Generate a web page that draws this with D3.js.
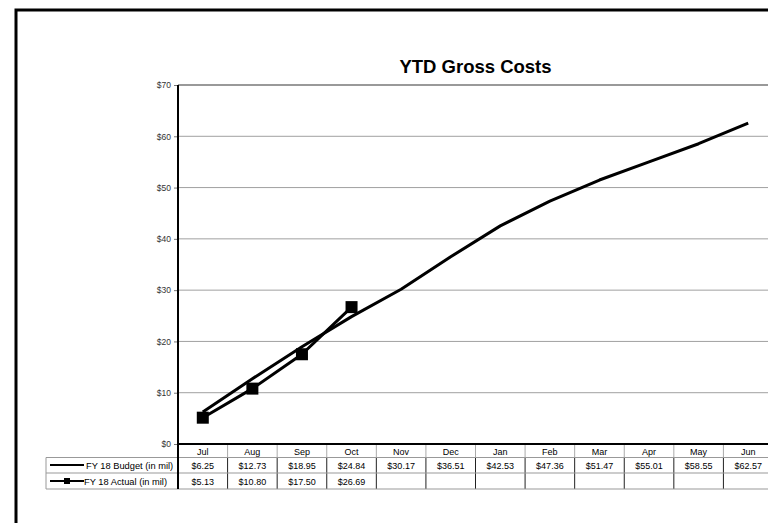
<!DOCTYPE html>
<html>
<head>
<meta charset="utf-8">
<script src="https://cdn.jsdelivr.net/npm/d3@7"></script>
<style>
  html, body { margin: 0; padding: 0; background: #fff; }
  svg { display: block; font-family: "Liberation Sans", Arial, sans-serif; }
</style>
</head>
<body>
<svg id="chart" width="768" height="523"></svg>
<script>
const months = ["Jul","Aug","Sep","Oct","Nov","Dec","Jan","Feb","Mar","Apr","May","Jun"];
const budget = [6.25,12.73,18.95,24.84,30.17,36.51,42.53,47.36,51.47,55.01,58.55,62.57];
const actual = [5.13,10.80,17.50,26.69];
const yTicks = [0,10,20,30,40,50,60,70];
const seriesNames = ["FY 18 Budget (in mil)", "FY 18 Actual (in mil)"];
const title = "YTD Gross Costs";

const svg = d3.select("#chart");
const L = 178, R = 773, T = 85, B = 444;
const x = d3.scaleBand().domain(months).range([L, R]).padding(0);
const y = d3.scaleLinear().domain([0, 70]).range([B, T]);
const cx = m => x(m) + x.bandwidth() / 2;
const fmt = v => "$" + v.toFixed(2);

// outer frame
svg.append("rect").attr("x", 16).attr("y", 10).attr("width", 900).attr("height", 700)
  .attr("fill", "none").attr("stroke", "#000").attr("stroke-width", 3);

// title
svg.append("text").attr("x", (L + R) / 2).attr("y", 73).attr("text-anchor", "middle")
  .attr("font-weight", "bold").attr("font-size", "18.5px").attr("fill", "#000").text(title);

// gridlines
svg.append("g").selectAll("line").data(yTicks.filter(d => d > 0)).join("line")
  .attr("x1", L).attr("x2", R + 20).attr("y1", d => y(d)).attr("y2", d => y(d))
  .attr("stroke", d => d === 70 ? "#777" : "#a0a0a0").attr("stroke-width", d => d === 70 ? 1.5 : 1);

// y axis
const yAxis = d3.axisLeft(y).tickValues(yTicks).tickFormat(d => "$" + d).tickSize(4).tickPadding(3);
const ya = svg.append("g").attr("transform", `translate(${L},0)`).call(yAxis);
ya.select(".domain").remove();
ya.selectAll(".tick line").attr("stroke", "#777");
ya.selectAll(".tick text").attr("font-size", "8.5px").attr("fill", "#333")
  .attr("font-family", "'Liberation Sans', Arial, sans-serif");

// table
const rowTop = [444, 457.5, 473, 489];
const tbl = svg.append("g");
tbl.selectAll("text.cat").data(months).join("text").attr("class", "cat")
  .attr("x", d => cx(d)).attr("y", 454.5).attr("text-anchor", "middle")
  .attr("font-size", "9px").attr("fill", "#000").text(d => d);
tbl.selectAll("line.vc").data(months.slice(1)).join("line").attr("class", "vc")
  .attr("x1", d => x(d)).attr("x2", d => x(d)).attr("y1", rowTop[0]).attr("y2", rowTop[1])
  .attr("stroke", "#aaa").attr("stroke-width", 1);
tbl.selectAll("line.vd").data(months.slice(1)).join("line").attr("class", "vd")
  .attr("x1", d => x(d)).attr("x2", d => x(d)).attr("y1", rowTop[1]).attr("y2", rowTop[3])
  .attr("stroke", "#222").attr("stroke-width", 1);
[rowTop[1], rowTop[2], rowTop[3]].forEach(yy => {
  tbl.append("line").attr("x1", 46).attr("x2", R + 20).attr("y1", yy).attr("y2", yy)
    .attr("stroke", "#999").attr("stroke-width", 1);
});
tbl.append("line").attr("x1", 46).attr("x2", 46).attr("y1", rowTop[1]).attr("y2", rowTop[3])
  .attr("stroke", "#999").attr("stroke-width", 1);
tbl.selectAll("text.bv").data(budget).join("text").attr("class", "bv")
  .attr("x", (d, i) => cx(months[i])).attr("y", 468.5).attr("text-anchor", "middle")
  .attr("font-size", "9px").attr("fill", "#000").text(d => fmt(d));
tbl.selectAll("text.av").data(actual).join("text").attr("class", "av")
  .attr("x", (d, i) => cx(months[i])).attr("y", 484.5).attr("text-anchor", "middle")
  .attr("font-size", "9px").attr("fill", "#000").text(d => fmt(d));
// legend keys
tbl.append("line").attr("x1", 50).attr("x2", 84).attr("y1", 465).attr("y2", 465)
  .attr("stroke", "#000").attr("stroke-width", 2);
tbl.append("line").attr("x1", 50).attr("x2", 84).attr("y1", 481).attr("y2", 481)
  .attr("stroke", "#000").attr("stroke-width", 2);
tbl.append("rect").attr("x", 64).attr("y", 478).attr("width", 6).attr("height", 6).attr("fill", "#000");
tbl.append("text").attr("x", 86).attr("y", 468.5).attr("text-anchor", "start")
  .attr("font-size", "9.3px").attr("fill", "#000").text(seriesNames[0]);
tbl.append("text").attr("x", 84).attr("y", 484.5).attr("text-anchor", "start")
  .attr("font-size", "9.3px").attr("fill", "#000").text(seriesNames[1]);

// axes lines
svg.append("line").attr("x1", L).attr("x2", L).attr("y1", T).attr("y2", rowTop[3])
  .attr("stroke", "#000").attr("stroke-width", 2);
svg.append("line").attr("x1", L).attr("x2", R + 20).attr("y1", B).attr("y2", B)
  .attr("stroke", "#000").attr("stroke-width", 2);

// series lines
const line = d3.line().x(d => cx(d.m)).y(d => y(d.v));
svg.append("path").datum(budget.map((v, i) => ({ m: months[i], v })))
  .attr("d", line).attr("fill", "none").attr("stroke", "#000").attr("stroke-width", 3)
  .attr("stroke-linejoin", "round");
const actData = actual.map((v, i) => ({ m: months[i], v }));
svg.append("path").datum(actData)
  .attr("d", line).attr("fill", "none").attr("stroke", "#000").attr("stroke-width", 3)
  .attr("stroke-linejoin", "round");
svg.append("g").selectAll("rect").data(actData).join("rect")
  .attr("x", d => cx(d.m) - 6).attr("y", d => y(d.v) - 6)
  .attr("width", 12).attr("height", 12).attr("fill", "#000");
</script>
</body>
</html>
